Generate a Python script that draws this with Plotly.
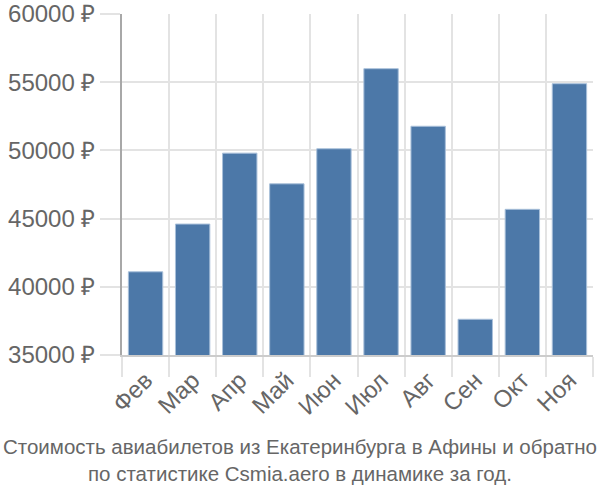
import plotly.graph_objects as go

months = ['Фев', 'Мар', 'Апр', 'Май', 'Июн', 'Июл', 'Авг', 'Сен', 'Окт', 'Ноя']
prices = [41100, 44600, 49800, 47550, 50120, 55990, 51770, 37620, 45680, 54890]
y_ticks = [35000, 40000, 45000, 50000, 55000, 60000]
y_labels = [f'{v} ₽' for v in y_ticks]

title_text = ('Стоимость авиабилетов из Екатеринбурга в Афины и обратно<br>'
              'по статистике Csmia.aero в динамике за год.')

# plot area edges in pixels
left, right, top, bottom = 122, 7, 14, 145
plot_w = 600 - left - right
plot_h = 500 - top - bottom

fig = go.Figure(
    go.Bar(
        x=months,
        y=prices,
        marker=dict(color='#4c78a8', line=dict(color='#a9c0da', width=1)),
    )
)

fig.update_layout(
    width=600,
    height=500,
    margin=dict(l=left, r=right, t=top, b=bottom),
    plot_bgcolor='white',
    paper_bgcolor='white',
    font=dict(family='Liberation Sans, Arial, sans-serif', color='#666666'),
    bargap=0.27,
    showlegend=False,
    annotations=[
        dict(
            text=title_text,
            x=(300 - left) / plot_w, xref='paper', xanchor='center',
            y=-(bottom - 13) / plot_h, yref='paper', yanchor='bottom',
            showarrow=False,
            font=dict(size=20.5, color='#666666'),
        )
    ],
)

fig.update_xaxes(
    automargin=False,
    tickson='boundaries',
    showgrid=True,
    gridcolor='#e3e3e3',
    gridwidth=1.5,
    ticks='outside',
    ticklen=20,
    tickcolor='#e3e3e3',
    tickwidth=1.5,
    tickangle=-45,
    tickfont=dict(size=24, color='#666666'),
    showline=True,
    linecolor='#cccccc',
    linewidth=1.5,
)
fig.update_yaxes(
    automargin=False,
    range=[35000, 60000],
    tickvals=y_ticks,
    ticktext=y_labels,
    showgrid=True,
    gridcolor='#e3e3e3',
    gridwidth=1.5,
    ticks='outside',
    ticklen=20,
    tickcolor='#e3e3e3',
    tickwidth=1.5,
    tickfont=dict(size=24, color='#666666'),
    showline=True,
    linecolor='#a8a8a8',
    linewidth=1.5,
    zeroline=False,
)

# drop the default 8px body margin so the figure fills the window
fig.write_html(
    'out.html',
    config={'displayModeBar': False},
    post_script="document.body.style.margin='0';",
)
